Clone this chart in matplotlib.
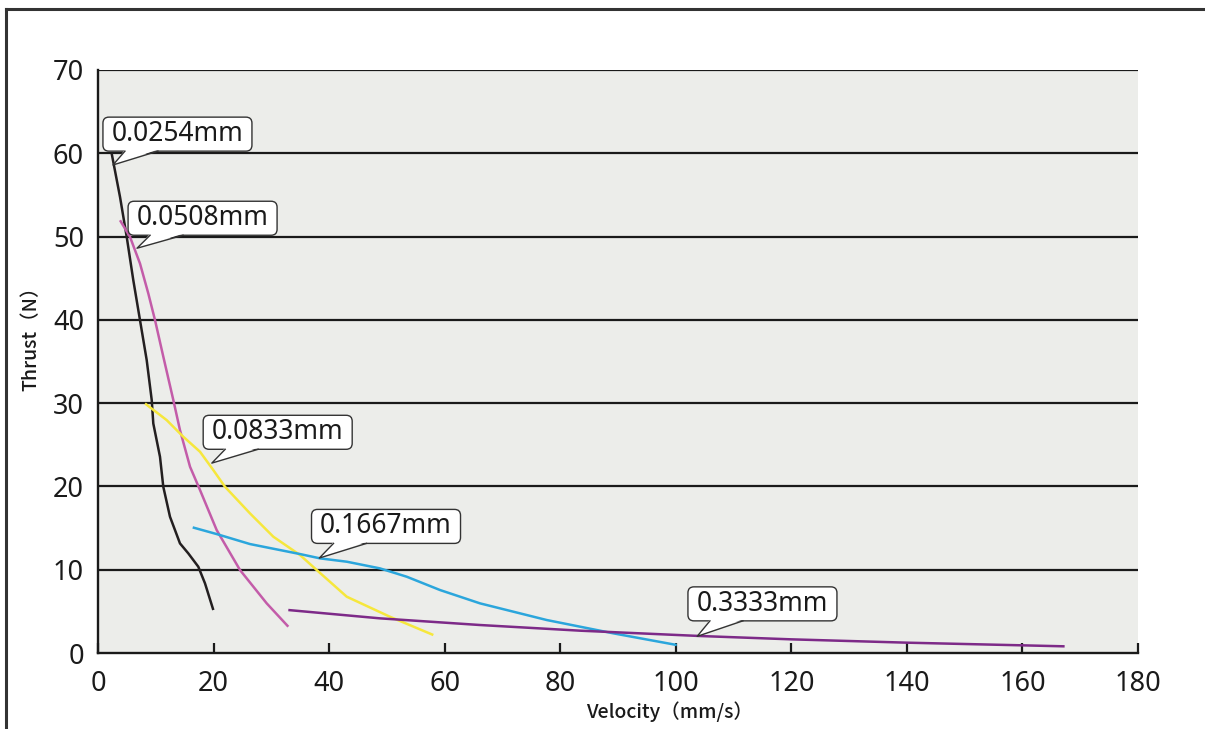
import matplotlib
matplotlib.use("Agg")
import matplotlib.pyplot as plt
from matplotlib.patches import FancyBboxPatch, Polygon
from matplotlib.lines import Line2D

# ---------------- data ----------------
x_0254 = [2.37, 3.81, 4.97, 6.11, 7.27, 8.43, 9.3, 9.57, 10.73, 11.3, 12.46, 14.19, 15.63, 17.36, 18.52, 19.96]
y_0254 = [59.96, 54.76, 49.96, 44.76, 39.96, 35.16, 30.36, 27.56, 23.56, 19.96, 16.36, 13.16, 11.96, 10.36, 8.36, 5.16]

x_0508 = [3.81, 5.54, 7.27, 8.71, 9.87, 11.31, 13.04, 14.19, 15.93, 17.66, 20.54, 24.58, 29.2, 32.94]
y_0508 = [51.96, 49.96, 46.76, 43.16, 39.96, 35.56, 30.36, 26.76, 22.36, 19.56, 14.76, 9.96, 5.96, 3.16]

x_0833 = [8.14, 11.89, 14.77, 17.66, 19.96, 21.98, 26.31, 30.35, 34.97, 37.86, 43.05, 50.5, 58.04]
y_0833 = [29.96, 27.96, 25.96, 24.16, 21.96, 19.96, 16.76, 13.96, 11.76, 9.96, 6.76, 4.36, 2.16]

x_1667 = [16.39, 20.54, 26.31, 31.5, 34.97, 38.45, 43.07, 48.8, 53.43, 59.2, 66.12, 77.66, 89.2, 100.17]
y_1667 = [15.08, 14.28, 13.08, 12.36, 11.88, 11.36, 10.96, 10.16, 9.16, 7.56, 5.96, 3.96, 2.36, 0.96]

x_3333 = [32.94, 48.8, 66.12, 83.43, 104.2, 120.0, 140.0, 160.0, 167.3]
y_3333 = [5.16, 4.16, 3.36, 2.68, 2.04, 1.64, 1.24, 0.92, 0.8]

labels = ["0.0254mm", "0.0508mm", "0.0833mm", "0.1667mm", "0.3333mm"]
label_box_center = [(13.75, 62.3), (18.1, 52.2), (31.1, 26.5), (49.85, 15.2), (115.0, 5.9)]
label_tip = [(2.6, 58.6), (6.75, 48.6), (19.7, 22.8), (38.3, 11.4), (103.7, 2.0)]

x_ticks = [0, 20, 40, 60, 80, 100, 120, 140, 160, 180]
y_ticks = [0, 10, 20, 30, 40, 50, 60, 70]

colors = ["#231f20", "#c35ca9", "#f6e73c", "#2ba6dc", "#7d2a88"]

# ---------------- figure ----------------
W, H = 1205, 729
fig = plt.figure(figsize=(W / 100, H / 100), dpi=100)
ax = fig.add_axes([98 / W, 1 - 653 / H, (1138 - 98) / W, (653 - 70) / H])
ax.set_facecolor("#ecedea")
ax.set_xlim(0, 180)
ax.set_ylim(0, 70)

for yv in y_ticks[1:]:
    ax.axhline(yv, color="#1a1a1a", lw=1.6, zorder=1)

series = [(x_0254, y_0254), (x_0508, y_0508), (x_0833, y_0833), (x_1667, y_1667), (x_3333, y_3333)]
for (xs, ys), c in zip(series, colors):
    ax.plot(xs, ys, color=c, lw=1.8, zorder=3, solid_capstyle="butt", solid_joinstyle="round")

for s in ["top", "right"]:
    ax.spines[s].set_visible(False)
for s in ["left", "bottom"]:
    ax.spines[s].set_color("#1a1a1a")
    ax.spines[s].set_linewidth(1.7)

ax.set_xticks(x_ticks)
ax.set_yticks(y_ticks)
ax.tick_params(axis="x", direction="in", length=7, width=1.6, color="#1a1a1a",
               pad=12, labelsize=19.5, labelcolor="#1a1a1a")
ax.tick_params(axis="y", length=0, pad=10, labelsize=19.5, labelcolor="#1a1a1a")
for t in ax.get_xticklabels() + ax.get_yticklabels():
    t.set_fontfamily("Noto Sans")
    t.set_fontweight("semibold")

fig.text(31 / W, 1 - 334 / H, "Thrust（N）", rotation=90,
         ha="center", va="center", fontsize=14, color="#1a1a1a",
         family=["Noto Sans CJK JP", "DejaVu Sans"], fontweight="medium")
fig.text(669 / W, 1 - 712 / H, "Velocity（mm/s）", ha="center", va="center",
         fontsize=14, color="#1a1a1a", family=["Noto Sans CJK JP", "DejaVu Sans"],
         fontweight="medium")

# ---------------- callouts ----------------
px_x = 180 / (1138 - 98)   # data units per pixel (x)
px_y = 70 / (653 - 70)     # data units per pixel (y)
bw, bh = 149 * px_x, 34 * px_y
for txt, (cx, cy), (tx, ty) in zip(labels, label_box_center, label_tip):
    x0, y0 = cx - bw / 2, cy - bh / 2
    box = FancyBboxPatch((x0, y0), bw, bh,
                         boxstyle="round,pad=0,rounding_size=%f" % (6 * px_x),
                         mutation_aspect=px_y / px_x,
                         facecolor="white", edgecolor="#333333", lw=1.0, zorder=5)
    ax.add_patch(box)
    b1 = x0 + 22 * px_x
    b2 = x0 + 55 * px_x
    tri = Polygon([(b1, y0 + 1.5 * px_y), (tx, ty), (b2, y0 + 1.5 * px_y)],
                  closed=True, facecolor="white", edgecolor="none", zorder=6)
    ax.add_patch(tri)
    ax.plot([b1, tx, b2], [y0, ty, y0], color="#333333", lw=1.0, zorder=7)
    ax.text(cx, cy, txt, ha="center", va="center", fontsize=19,
            color="#1a1a1a", family="Noto Sans", fontweight="medium", zorder=8)

# ---------------- outer frame ----------------
fig.add_artist(Line2D([6 / W, 1], [1 - 9 / H, 1 - 9 / H], transform=fig.transFigure,
                      color="#333333", lw=2.2))
fig.add_artist(Line2D([6 / W, 6 / W], [0, 1 - 9 / H], transform=fig.transFigure,
                      color="#333333", lw=2.2))

fig.savefig("out.png", dpi=100)
